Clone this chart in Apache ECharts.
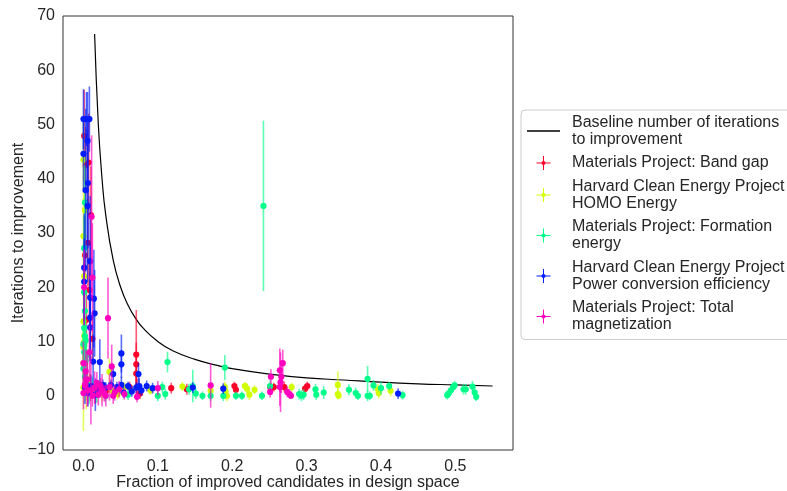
<!DOCTYPE html>
<html><head><meta charset="utf-8">
<script src="https://cdn.jsdelivr.net/npm/echarts@6/dist/echarts.min.js"></script>
<style>html,body{margin:0;padding:0;background:#fff}#c{width:787px;height:491px}</style>
</head><body><div id="c"></div>
<script>
// Baseline
const baselineX = [0.015,0.02,0.025,0.03,0.04,0.05,0.06,0.07,0.08,0.1,0.12,0.15,0.18,0.2,0.25,0.3,0.35,0.4,0.45,0.5,0.55];
const baselineY = [66.7,50,40,33.3,25,20,16.7,14.3,12.5,10,8.3,6.7,5.6,5,4,3.3,2.9,2.5,2.2,2,1.8];

// [x, y, error]
const bandGap = [[0.001,47.9,8.5],[0.007,43.0,9],[0.003,42.5,7],[0.010,33.3,9],[0.006,28.2,8],[0.002,25.9,7],[0.008,19.5,6],[0.004,14.0,5],[0.012,10.5,4],[0.002,6.0,4],[0.005,3.0,3],[0.009,1.5,2.5],[0.016,0.6,2],[0.022,1.2,1.5],[0.030,0.8,1.2],[0.045,1.0,1],[0.062,1.6,1],[0.071,7.6,8.2],[0.071,5.8,4],[0.071,4.1,3],[0.072,1.6,1.5],[0.076,0.4,1],[0.118,1.4,1],[0.139,1.2,1],[0.203,1.8,0.8],[0.205,1.1,1],[0.251,1.6,0.8],[0.256,1.6,0.8],[0.270,1.6,1],[0.298,1.3,0.8],[0.301,1.8,0.8]];
const homo = [[0.000,43.5,8],[0.002,34.2,8],[0.000,29.4,7],[0.001,22.0,6],[0.000,13.7,5],[0.001,11.0,4],[0.000,9.0,4],[0.002,7.0,3.5],[0.001,5.0,3],[0.003,3.0,4],[0.000,1.5,8],[0.004,0.5,3],[0.008,2.0,2],[0.001,10.0,3],[0.000,6.0,3],[0.015,1.2,1.5],[0.025,0.5,1.5],[0.035,4.4,2.4],[0.038,1.0,1],[0.046,0.3,1],[0.055,1.5,1],[0.090,1.0,0.8],[0.133,1.7,0.8],[0.171,0.9,1],[0.190,1.6,1],[0.191,0.8,1.5],[0.193,0.0,1],[0.217,1.8,0.8],[0.220,1.3,1],[0.223,0.2,1],[0.230,1.1,0.8],[0.280,1.6,0.8],[0.342,2.0,2.5],[0.342,0.3,1],[0.343,0.0,0.5],[0.396,1.2,1],[0.397,0.5,1],[0.413,0.9,1]];
const formation = [[0.002,35.6,7],[0.001,27.2,6],[0.001,19.1,5],[0.002,15.6,5],[0.001,12.5,4],[0.002,11.0,4],[0.000,9.5,3],[0.001,8.0,3],[0.003,6.5,3],[0.000,5.0,2.5],[0.002,3.5,2.5],[0.005,2.0,2],[0.008,0.5,2],[0.012,1.5,2],[0.003,10.2,3],[0.004,7.4,3],[0.018,0.2,1.5],[0.030,0.0,1],[0.060,0.2,1],[0.100,0.0,1],[0.106,1.6,1],[0.110,0.3,1],[0.113,6.2,1.9],[0.142,1.2,1],[0.147,1.8,3.0],[0.151,0.4,1],[0.160,0.0,0.8],[0.171,0.0,1],[0.188,0.0,1],[0.190,5.2,2.3],[0.205,0.0,0.8],[0.213,0.0,0.8],[0.240,0.0,0.8],[0.242,35.0,15.7],[0.251,1.8,1],[0.290,0.3,1],[0.293,0.0,1],[0.296,0.2,1],[0.312,1.2,1],[0.313,0.2,1],[0.323,0.6,1.2],[0.357,1.1,1],[0.366,0.5,1],[0.369,0.0,0.8],[0.382,3.1,2.4],[0.382,0.0,1],[0.385,0.0,0.8],[0.390,1.9,1],[0.400,1.4,1.2],[0.411,1.8,0.8],[0.429,0.1,0.8],[0.489,0.1,0.8],[0.491,0.4,0.8],[0.494,1.0,0.8],[0.497,1.6,0.8],[0.499,1.9,0.8],[0.511,1.2,1],[0.514,1.2,1],[0.523,1.7,1],[0.526,0.6,1],[0.528,-0.2,0.8]];
const pce = [[0.000,51.0,5.5],[0.004,51.0,5.0],[0.008,51.0,6.0],[0.0055,47.0,9.0],[0.000,44.6,7.0],[0.003,37.9,15.0],[0.006,39.2,12.0],[0.0055,35.0,14.0],[0.009,24.8,12.0],[0.001,23.6,10.0],[0.001,21.0,8.0],[0.009,18.1,10.0],[0.014,17.9,9.0],[0.015,15.2,8.0],[0.009,14.4,8.0],[0.009,12.6,6.0],[0.013,6.3,5.0],[0.022,6.2,4.2],[0.002,1.5,3],[0.006,0.5,2.5],[0.010,1.8,2],[0.016,0.2,3],[0.020,1.2,1.5],[0.026,2.0,1],[0.030,1.5,1],[0.037,2.0,1],[0.040,4.0,1.5],[0.045,1.6,1],[0.051,7.8,3.5],[0.051,5.8,2.5],[0.051,2.0,1.5],[0.054,0.6,1],[0.060,1.8,0.8],[0.065,0.8,1],[0.071,1.5,1],[0.074,4.0,2.0],[0.075,1.8,1.5],[0.078,1.0,1.0],[0.085,1.8,1.0],[0.093,1.4,1.0],[0.147,1.5,1.0],[0.188,1.3,1.0],[0.423,0.4,1.0]];
const magnetization = [[0.011,33.0,15],[0.012,21.8,10],[0.001,20.0,7],[0.033,14.3,7.5],[0.038,5.4,4],[0.008,8.0,5],[0.000,6.0,4],[0.003,4.5,4],[0.005,3.0,5],[0.010,1.0,6.3],[0.000,0.5,3],[0.002,2.0,2],[0.006,1.0,2.5],[0.012,0.0,2],[0.015,1.5,3],[0.018,2.4,2],[0.020,0.2,2],[0.023,1.8,1.5],[0.025,1.0,3],[0.028,0.4,1.5],[0.030,0.0,2],[0.035,1.6,2.5],[0.040,0.0,1.5],[0.042,0.6,1.5],[0.048,1.2,1.5],[0.055,0.3,1],[0.072,-0.2,1],[0.100,1.4,1.3],[0.171,1.9,4.1],[0.251,0.7,1],[0.252,3.5,1.4],[0.264,4.7,4],[0.265,2.5,5.5],[0.266,3.5,3],[0.264,1.6,3.5],[0.268,6.0,2.5],[0.274,0.7,1],[0.277,0.3,0.8],[0.279,0.0,0.5]];

const xTicks = [0, 0.1, 0.2, 0.3, 0.4, 0.5];

const names = ['Baseline number of iterations\nto improvement','Materials Project: Band gap','Harvard Clean Energy Project\nHOMO Energy','Materials Project: Formation\nenergy','Harvard Clean Energy Project\nPower conversion efficiency','Materials Project: Total\nmagnetization'];
const colors = ['#ff0029','#cfff00','#00ff8a','#001cff','#ff00bf'];
const sets = [bandGap, homo, formation, pce, magnetization];

const crossIcon = 'path://M9.3,0H10.7V20H9.3Z M0,9.3H20V10.7H0Z M10,7A3,3 0 1,1 9.99,7Z';
const lineIcon = 'path://M0,0H33V1.3H0Z';

function renderItem(params, api){
  const x = api.value(0), y = api.value(1), e = api.value(2);
  const p = api.coord([x, y]);
  const t = api.coord([x, y + e]);
  const b = api.coord([x, y - e]);
  const c = api.visual('color');
  return {type:'group', children:[
    {type:'line', shape:{x1:p[0], y1:t[1], x2:p[0], y2:b[1]}, style:{stroke:c, lineWidth:1.6, opacity:0.65}},
    {type:'line', shape:{x1:p[0]-0.8, y1:p[1], x2:p[0]+0.8, y2:p[1]}, style:{stroke:c, lineWidth:1.6, opacity:0.65}},
    {type:'circle', shape:{cx:p[0], cy:p[1], r:3.1}, style:{fill:c}}
  ]};
}

const font = '"Liberation Sans", Arial, sans-serif';
const series = [{
  name: names[0], type:'line', data: baselineX.map((v,i)=>[v, baselineY[i]]),
  smooth: true, symbol:'none', showSymbol:false, lineStyle:{color:'#000', width:1.2}, itemStyle:{color:'#000'}, z:1
}];
sets.forEach((d, i) => {
  series.push({name: names[i+1], type:'custom', data: d, renderItem, clip: true,
    encode:{x:0, y:1}, itemStyle:{color: colors[i]}, z: 2+i});
});

const chart = echarts.init(document.getElementById('c'), null, {renderer:'canvas'});
chart.setOption({
  animation:false,
  backgroundColor:'#fff',
  textStyle:{fontFamily:font},
  grid:{left:63, right:274, top:16, bottom:41, show:true, borderColor:'#333', borderWidth:1, containLabel:false, outerBoundsMode:'none'},
  xAxis:{type:'value', min:-0.0275, max:0.5775,
    axisLine:{show:false}, axisTick:{show:false}, splitLine:{show:false},
    axisLabel:{customValues: xTicks, formatter: v => v.toFixed(1), fontSize:16, color:'#262626', margin:9, fontFamily:font},
    name:'Fraction of improved candidates in design space', nameLocation:'middle', nameGap:25, nameMoveOverlap:false,
    nameTextStyle:{fontSize:16, color:'#262626', fontFamily:font, verticalAlign:'top', lineHeight:16}},
  yAxis:{type:'value', min:-10, max:70, interval:10,
    axisLine:{show:false}, axisTick:{show:false}, splitLine:{show:false},
    axisLabel:{formatter: v => String(v).replace('-', '\u2212'), fontSize:16, color:'#262626', margin:8, fontFamily:font},
    name:'Iterations to improvement', nameLocation:'middle', nameGap:36, nameMoveOverlap:false,
    nameTextStyle:{fontSize:16, color:'#262626', fontFamily:font, verticalAlign:'bottom', lineHeight:16}},
  legend:{orient:'vertical', left:521, top:110, padding:[4,12,6,6], itemGap:6.5,
    itemWidth:33, itemHeight:14, borderColor:'#cccccc', borderWidth:1, borderRadius:4,
    backgroundColor:'#fff',
    textStyle:{fontSize:16, lineHeight:17, color:'#262626', fontFamily:font, padding:[0,0,0,7]},
    data: names.map((n,i)=> i===0 ? {name:n, icon: lineIcon} : {name:n, icon: crossIcon})},
  series
});
</script></body></html>
